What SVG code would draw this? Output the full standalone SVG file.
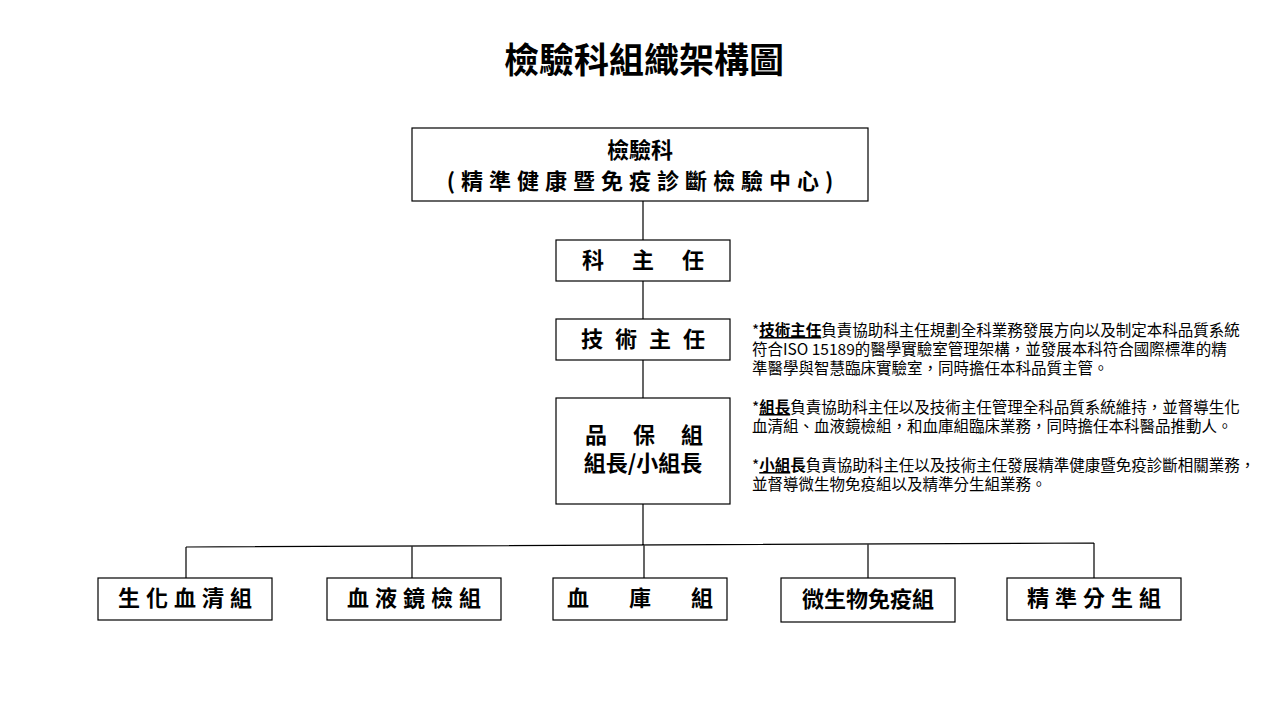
<svg xmlns="http://www.w3.org/2000/svg" width="1280" height="720" viewBox="0 0 1280 720">
<style>
.b{fill:#fff;stroke:#000;stroke-width:1.2}
.t{font-family:"Noto Sans CJK TC","Noto Sans CJK SC",sans-serif;font-size:22px;font-weight:bold;text-anchor:middle;fill:#000}
.s{font-family:"Noto Sans CJK TC","Noto Sans CJK SC",sans-serif;font-size:15.5px;fill:#000}
.c{stroke:#000;stroke-width:1.2;fill:none}
</style>
<rect width="1280" height="720" fill="#fff"/>
<text x="644" y="73" class="t" style="font-size:35px">檢驗科組織架構圖</text>
<g id="connectors">
<path class="c" d="M643 201V240M643 281V319M643 360V398M643 504V545M186 547L1094 543M186 547V578M412 546V578M644 545V578M868 544V578M1094 543V578"/>
</g>
<g id="n1"><rect class="b" x="412" y="128" width="456" height="73"/><text class="t" x="640" y="158">檢驗科</text><text class="t" x="643" y="189" letter-spacing="6">(精準健康暨免疫診斷檢驗中心)</text></g>
<g id="n2"><rect class="b" x="556" y="240" width="174" height="41"/><text class="t" x="657" y="268" letter-spacing="28">科主任</text></g>
<g id="n3"><rect class="b" x="556" y="319" width="174" height="41"/><text class="t" x="649" y="347" letter-spacing="12">技術主任</text></g>
<g id="n4"><rect class="b" x="556" y="398" width="174" height="106"/><text class="t" x="657" y="443" letter-spacing="26">品保組</text><text class="t" x="643" y="471">組長/小組長</text></g>
<g id="n5"><rect class="b" x="98" y="578" width="174" height="42"/><text class="t" x="188" y="606" letter-spacing="6">生化血清組</text></g>
<g id="n6"><rect class="b" x="327" y="578" width="174" height="42"/><text class="t" x="417" y="606" letter-spacing="6">血液鏡檢組</text></g>
<g id="n7"><rect class="b" x="553" y="578" width="174" height="42"/><text class="t" x="660" y="606" letter-spacing="40">血庫組</text></g>
<g id="n8"><rect class="b" x="781" y="578" width="174" height="44"/><text class="t" x="868" y="607">微生物免疫組</text></g>
<g id="n9"><rect class="b" x="1007" y="578" width="174" height="42"/><text class="t" x="1097" y="606" letter-spacing="6">精準分生組</text></g>
<g id="notes" class="s">
<text x="752" y="336">*<tspan font-weight="bold" text-decoration="underline">技術主任</tspan>負責協助科主任規劃全科業務發展方向以及制定本科品質系統</text>
<text x="752" y="355">符合ISO 15189的醫學實驗室管理架構，並發展本科符合國際標準的精</text>
<text x="752" y="374">準醫學與智慧臨床實驗室，同時擔任本科品質主管。</text>
<text x="752" y="413">*<tspan font-weight="bold" text-decoration="underline">組長</tspan>負責協助科主任以及技術主任管理全科品質系統維持，並督導生化</text>
<text x="752" y="432">血清組、血液鏡檢組，和血庫組臨床業務，同時擔任本科醫品推動人。</text>
<text x="752" y="471">*<tspan font-weight="bold" text-decoration="underline">小組</tspan><tspan font-weight="bold">長</tspan>負責協助科主任以及技術主任發展精準健康暨免疫診斷相關業務，</text>
<text x="752" y="490">並督導微生物免疫組以及精準分生組業務。</text>
</g>
</svg>
